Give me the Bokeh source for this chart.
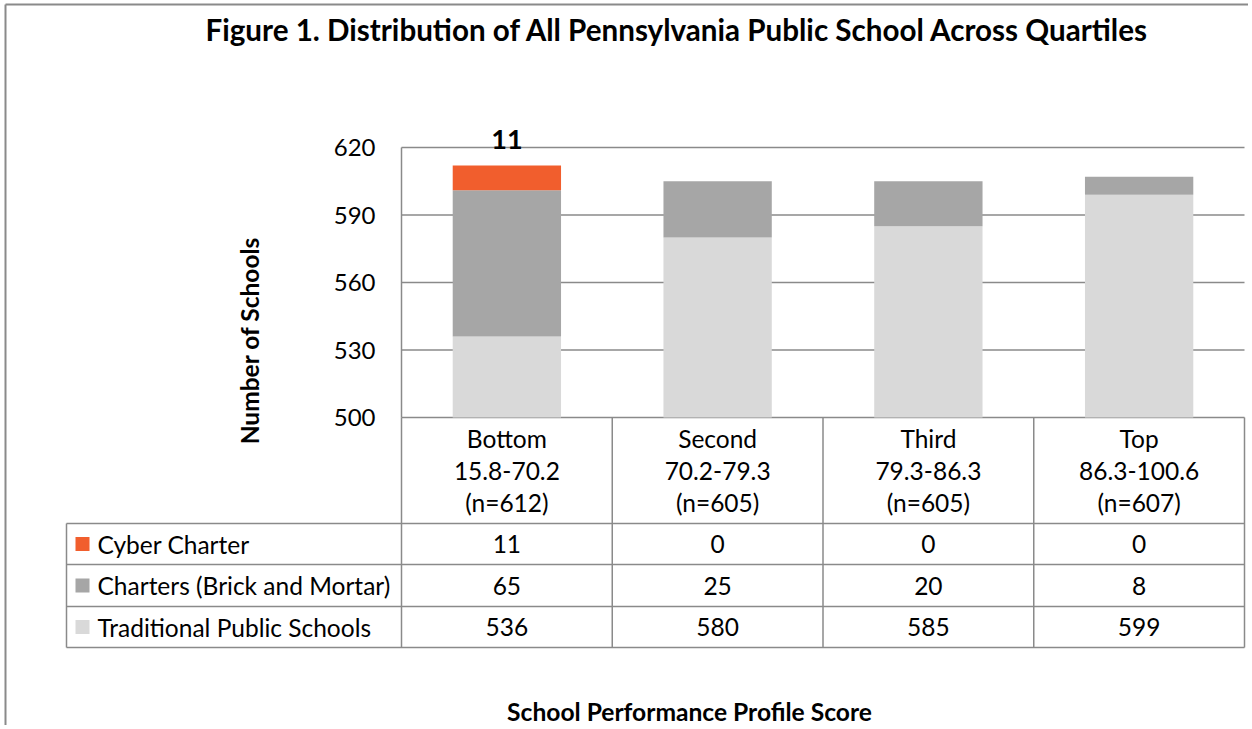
from bokeh.plotting import figure
from bokeh.models import Range1d, LinearAxis, FixedTicker
from bokeh.core.properties import value
from bokeh.embed import file_html
from bokeh.resources import INLINE

# ---------------- data ----------------
quartiles = ["Bottom", "Second", "Third", "Top"]
score_ranges = ["15.8-70.2", "70.2-79.3", "79.3-86.3", "86.3-100.6"]
series_names = ["Cyber Charter", "Charters (Brick and Mortar)", "Traditional Public Schools"]
cyber = [11, 0, 0, 0]
charters = [65, 25, 20, 8]
traditional = [536, 580, 585, 599]
y_ticks = [500, 530, 560, 590, 620]
title_text = "Figure 1. Distribution of All Pennsylvania Public School Across Quartiles"
y_title = "Number of Schools"
x_title = "School Performance Profile Score"

# ---------------- styles / layout ----------------
C_CYBER = "#F15E2D"
C_CHART = "#A6A6A6"
C_TRAD = "#D9D9D9"
C_LINE = "#8A8A8A"
FONT = value("Lato")
BODY_SIZE = "24.5px"

W, H = 1248, 725
PLOT_L, PLOT_R = 401, 1244   # px of plot area
Y_BASE = 417                 # px of axis minimum
PX_PER_UNIT = 2.25
CAT_W = (PLOT_R - PLOT_L) / len(quartiles)
AXIS_MIN = y_ticks[0]


def X(px):
    return (px - PLOT_L) / CAT_W


def Y(px):
    return AXIS_MIN + (Y_BASE - px) / PX_PER_UNIT


p = figure(width=W, height=H,
           x_range=Range1d(X(0), X(W)),
           y_range=Range1d(Y(H), Y(0)),
           x_axis_type=None, y_axis_type=None,
           min_border=0, toolbar_location=None, output_backend="svg",
           outline_line_color=None)
p.grid.visible = False

n = len(quartiles)
xc = [i + 0.5 for i in range(n)]

# gridlines
p.segment(x0=[0] * len(y_ticks), x1=[n] * len(y_ticks), y0=y_ticks, y1=y_ticks,
          line_color=C_LINE, line_width=1.5)

# stacked bars
base = [AXIS_MIN] * n
top1 = traditional
top2 = [a + b for a, b in zip(traditional, charters)]
top3 = [a + b for a, b in zip(top2, cyber)]
BW = 0.514
p.vbar(x=xc, bottom=base, top=top1, width=BW, fill_color=C_TRAD, line_color=None)
p.vbar(x=xc, bottom=top1, top=top2, width=BW, fill_color=C_CHART, line_color=None)
p.vbar(x=xc, bottom=top2, top=top3, width=BW, fill_color=C_CYBER, line_color=None)

# data label for cyber charter
lab_x = [x for x, v in zip(xc, cyber) if v > 0]
lab_y = [t for t, v in zip(top3, cyber) if v > 0]
lab_t = [str(v) for v in cyber if v > 0]
p.text(x=lab_x, y=lab_y, text=lab_t, text_font=FONT, text_font_style="bold",
       text_font_size="27px", text_align="center", text_baseline="bottom",
       y_offset=-17, text_color="black")

# y axis
yax = LinearAxis(fixed_location=0, bounds=(y_ticks[0], y_ticks[-1]),
                 ticker=FixedTicker(ticks=y_ticks),
                 major_tick_out=0, major_tick_in=0, minor_tick_out=0, minor_tick_in=0,
                 axis_line_color=C_LINE, axis_line_width=1.5,
                 major_label_standoff=26,
                 major_label_text_font="Lato", major_label_text_font_size="24px",
                 major_label_text_color="black")
p.add_layout(yax, "left")

# ---------------- data table ----------------
row_ys = [523, 564, 606, 647]
# horizontal lines
p.segment(x0=[X(66)] * len(row_ys), x1=[n] * len(row_ys),
          y0=[Y(v) for v in row_ys], y1=[Y(v) for v in row_ys],
          line_color=C_LINE, line_width=1.5)
# vertical lines
vx = [X(66)] + list(range(n + 1))
vy0 = [Y(row_ys[0])] + [AXIS_MIN] * (n + 1)
p.segment(x0=vx, x1=vx, y0=vy0, y1=[Y(row_ys[-1])] * len(vx),
          line_color=C_LINE, line_width=1.5)

# header (category labels)
totals = [a + b + c for a, b, c in zip(cyber, charters, traditional)]
header_lines = [quartiles, score_ranges, ["(n=%d)" % t for t in totals]]
for lines, py in zip(header_lines, [438, 470, 502]):
    p.text(x=xc, y=[Y(py)] * n, text=lines, text_font=FONT, text_font_size=BODY_SIZE,
           text_align="center", text_baseline="middle", text_color="black")

# rows
rows = [cyber, charters, traditional]
colors = [C_CYBER, C_CHART, C_TRAD]
row_centers = [(row_ys[i] + row_ys[i + 1]) / 2 for i in range(3)]
for name, vals, col, py in zip(series_names, rows, colors, row_centers):
    p.scatter(x=[X(82)], y=[Y(py)], marker="square", size=14,
              fill_color=col, line_color=None)
    p.text(x=[X(97)], y=[Y(py)], text=[name], text_font=FONT, text_font_size=BODY_SIZE,
           text_align="left", text_baseline="middle", text_color="black")
    p.text(x=xc, y=[Y(py)] * n, text=[str(v) for v in vals], text_font=FONT,
           text_font_size=BODY_SIZE, text_align="center", text_baseline="middle",
           text_color="black")

# titles
p.text(x=[X(677)], y=[Y(29)], text=[title_text], text_font=FONT, text_font_style="bold",
       text_font_size="29.6px", text_align="center", text_baseline="middle", text_color="black")
p.text(x=[X(689)], y=[Y(711)], text=[x_title], text_font=FONT, text_font_style="bold",
       text_font_size="24.6px", text_align="center", text_baseline="middle", text_color="black")
p.text(x=[X(249)], y=[Y(340)], text=[y_title], text_font=FONT, text_font_style="bold",
       text_font_size="24.5px", text_align="center", text_baseline="middle", angle=1.5707963,
       text_color="black")

# chart area border (left and top)
p.segment(x0=[X(5), X(5)], x1=[X(5), X(W)], y0=[Y(H), Y(4)], y1=[Y(4), Y(4)],
          line_color=C_LINE, line_width=2)

open("out.html", "w").write(file_html(p, INLINE))
